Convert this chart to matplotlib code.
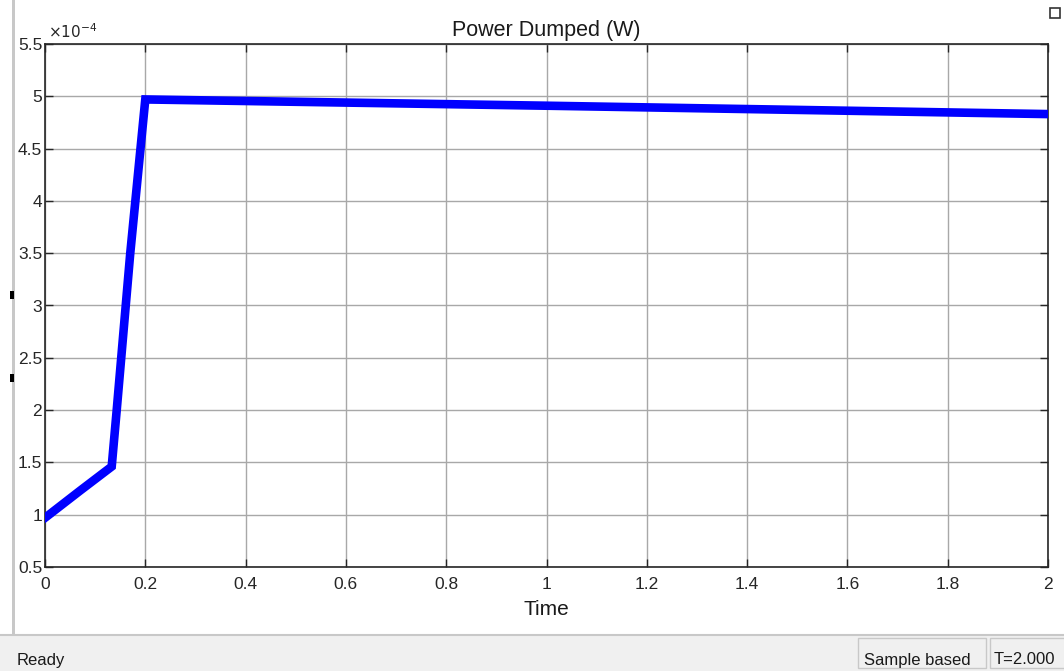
import matplotlib
matplotlib.use("Agg")
import matplotlib.pyplot as plt
import numpy as np
from matplotlib.patches import Rectangle
from matplotlib.ticker import FuncFormatter

# Data (power in units of 1e-4 W)
time = [0.0, 0.07, 0.133, 0.143, 0.17, 0.2, 0.6, 1.0, 1.5, 2.0]
power_e4 = [0.97, 1.23, 1.46, 2.0, 3.5, 4.97, 4.94, 4.91, 4.87, 4.83]
x_ticks = [0, 0.2, 0.4, 0.6, 0.8, 1, 1.2, 1.4, 1.6, 1.8, 2]
y_ticks_e4 = [0.5, 1, 1.5, 2, 2.5, 3, 3.5, 4, 4.5, 5, 5.5]

W, H = 1064, 671
fig = plt.figure(figsize=(W / 100, H / 100), dpi=100)
fig.patch.set_facecolor("white")
plt.rcParams["font.family"] = ["Liberation Sans", "DejaVu Sans"]

L, R, T, B = 45, 1048, 44, 567
ax = fig.add_axes([L / W, 1 - B / H, (R - L) / W, (B - T) / H])
power = np.array(power_e4) * 1e-4
ax.plot(time, power, color="#0000ff", lw=6.2, solid_joinstyle="miter", zorder=3)
ax.set_xlim(0, 2)
ax.set_ylim(0.5e-4, 5.5e-4)
ax.set_xticks(x_ticks)
ax.set_yticks(np.array(y_ticks_e4) * 1e-4)
ax.xaxis.set_major_formatter(FuncFormatter(lambda v, p: f"{v:g}"))
ax.yaxis.set_major_formatter(FuncFormatter(lambda v, p: f"{round(v * 1e4, 2):g}"))
ax.grid(True, color="#a8a8a8", lw=1.0)
ax.tick_params(direction="in", length=6, width=1, top=True, right=True,
               labelsize=12.5, colors="#262626")
ax.tick_params(axis="x", pad=7)
ax.tick_params(axis="y", pad=2)
for s in ax.spines.values():
    s.set_color("#262626")
    s.set_linewidth(1.2)
ax.set_title("Power Dumped (W)", fontsize=15.5, color="#1a1a1a", pad=6)
ax.set_xlabel("Time", fontsize=15, color="#1a1a1a", labelpad=6)
ax.text(0.003, 1.006, r"$\times10^{-4}$", transform=ax.transAxes, fontsize=11,
        color="#262626", ha="left", va="bottom")

# Window decorations
fig.add_artist(Rectangle((0, 0), 1, 35 / H, transform=fig.transFigure,
                         facecolor="#f0f0f0", edgecolor="none", zorder=0))
fig.add_artist(plt.Line2D([0, 1], [36 / H, 36 / H], transform=fig.transFigure,
                          color="#c8c8c8", lw=1.5))
fig.add_artist(Rectangle((12 / W, 35 / H), 3 / W, 1 - 35 / H, transform=fig.transFigure,
                         facecolor="#c8c8c8", edgecolor="none"))
for yy in (295, 378):
    fig.add_artist(Rectangle((10 / W, 1 - (yy + 4) / H), 4 / W, 8 / H,
                             transform=fig.transFigure, facecolor="black", edgecolor="none"))
fig.text(17 / W, 1 - 660 / H, "Ready", fontsize=12, color="#1a1a1a", va="center", ha="left")
fig.add_artist(Rectangle((858 / W, 1 - 668 / H), 128 / W, 30 / H, transform=fig.transFigure,
                         facecolor="#f0f0f0", edgecolor="#c8c8c8", lw=1))
fig.add_artist(Rectangle((990 / W, 1 - 668 / H), 80 / W, 30 / H, transform=fig.transFigure,
                         facecolor="#f0f0f0", edgecolor="#c8c8c8", lw=1))
fig.text(864 / W, 1 - 660 / H, "Sample based", fontsize=12, color="#1a1a1a", va="center", ha="left")
fig.text(994 / W, 1 - 660 / H, "T=2.000", fontsize=12, color="#1a1a1a", va="center", ha="left")
fig.add_artist(Rectangle((1050 / W, 1 - 18 / H), 10 / W, 10 / H, transform=fig.transFigure,
                         facecolor="white", edgecolor="#333333", lw=1.2))

fig.savefig("out.png", dpi=100, facecolor="white")
